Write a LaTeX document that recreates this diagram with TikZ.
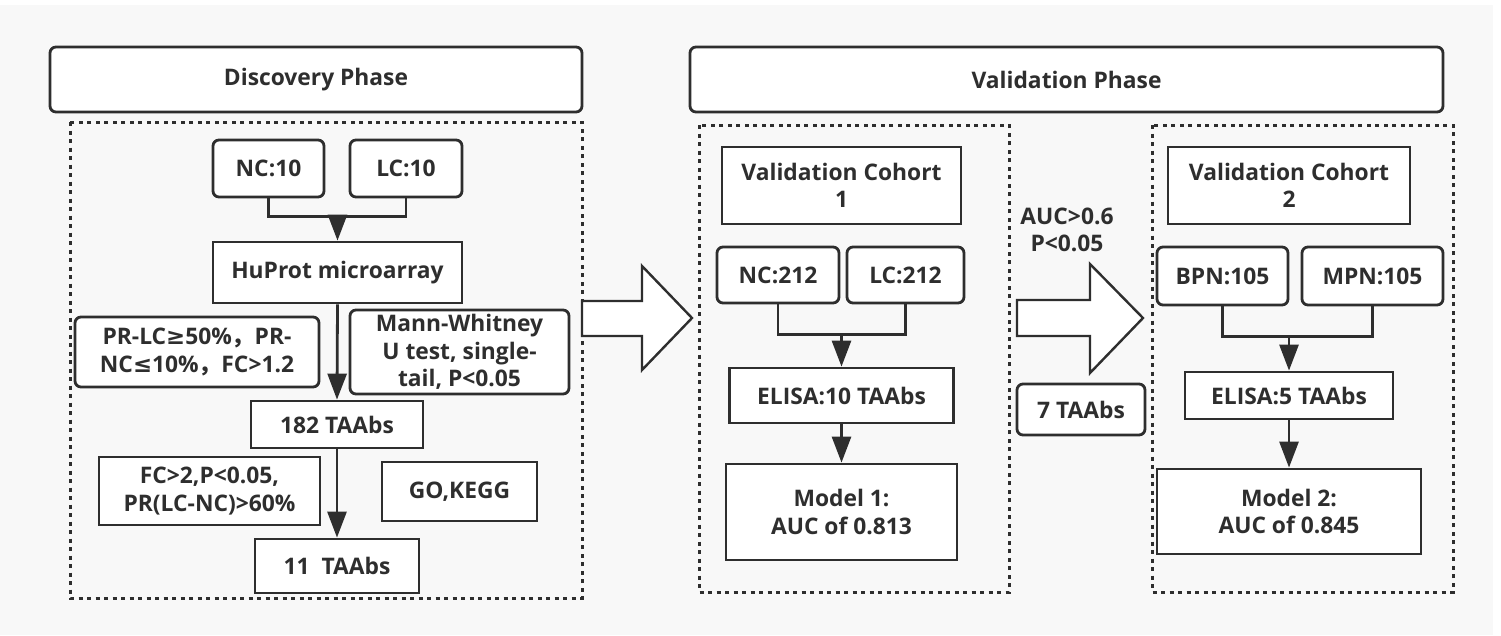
\documentclass[tikz,border=0pt]{standalone}
\usepackage{fontspec}
\setmainfont{Open Sans}
\newfontfamily\cjk{Noto Sans CJK SC}
\newfontfamily\sym{DejaVu Sans}
\usetikzlibrary{arrows.meta,calc}
\definecolor{ink}{HTML}{2E2E2E}
\definecolor{paper}{HTML}{F8F8F8}

\begin{document}
\begin{tikzpicture}[x=1pt,y=-1pt,
  every node/.style={font=\fontsize{22.8}{27.5}\selectfont\bfseries, text=ink},
  sbox/.style={draw=ink, line width=2.8pt, fill=white, inner sep=0pt, align=center, rectangle},
  rbox/.style={sbox, rounded corners=6pt},
  frame/.style={draw=ink, line width=3pt, dash pattern=on 4pt off 4.5pt},
  link/.style={draw=ink, line width=2.8pt},
  flow/.style={link, -{Triangle[length=26pt,width=19pt]}},
  block/.style={draw=ink, line width=2.4pt, fill=white, line join=miter},
]
% canvas
\fill[white] (0,0) rectangle (1501,635);
\fill[paper] (0,5) rectangle (1493,635);
\useasboundingbox (0,0) rectangle (1501,635);

% phase headers
\node[rbox, minimum width=532pt, minimum height=65pt] (disc) at (316,79.5) {Discovery Phase};
\node[rbox, minimum width=753pt, minimum height=65pt] (vali) at (1066.5,79.5) {Validation Phase};

% dotted panels
\draw[frame] (70,122) rectangle (582,598);
\draw[frame] (699,125) rectangle (1009,592);
\draw[frame] (1152,125) rectangle (1453,592);

% block arrows between panels
\draw[block] (582,301) -- (642,301) -- (642,266) -- (692,318) -- (642,370) -- (642,336) -- (582,336) -- cycle;
\draw[block] (1017,300) -- (1090,300) -- (1090,264) -- (1143,318) -- (1090,373) -- (1090,336) -- (1017,336) -- cycle;
\node[align=center] (crit) at (1067,230) {AUC>0.6\\P<0.05};
\node[rbox, minimum width=128pt, minimum height=51pt] (seven) at (1081,409.5) {7 TAAbs};

% discovery phase
\node[rbox, minimum width=111pt, minimum height=57pt] (nc10) at (268.5,168.5) {NC:10};
\node[rbox, minimum width=112pt, minimum height=57pt] (lc10) at (406,168.5) {LC:10};
\node[sbox, minimum width=249pt, minimum height=61pt] (hu) at (337.5,272.5) {HuProt microarray};
\node[rbox, minimum width=244pt, minimum height=70pt] (prlc) at (197,352)
  {PR-LC{\sym ≥}50\%{\cjk ，}PR-\\NC{\sym ≤}10\%{\cjk ，}FC>1.2};
\node[rbox, minimum width=219pt, minimum height=84pt] (mw) at (459.5,352)
  {Mann-Whitney\\U test, single-\\tail, P<0.05};
\node[sbox, minimum width=172pt, minimum height=47pt] (t182) at (337,424.5) {182 TAAbs};
\node[sbox, minimum width=221pt, minimum height=68pt] (fc) at (209.5,491) {FC>2,P<0.05,\\PR(LC-NC)>60\%};
\node[sbox, minimum width=155pt, minimum height=59pt] (go) at (459.5,491.5) {GO,KEGG};
\node[sbox, minimum width=164pt, minimum height=54pt] (t11) at (337,566) {11~~TAAbs};

\coordinate (j1) at ($(hu.north)+(0,-24)$);
\draw[link] (nc10.south) |- (j1) -| (lc10.south);
\draw[flow] (j1) -- (hu.north);
\draw[flow] (hu.south) -- (t182.north);
\draw[flow] (t182.south) -- (t11.north);

% validation cohort 1
\node[sbox, minimum width=239pt, minimum height=77pt] (vc1) at (841.5,185.5) {Validation Cohort\\1};
\node[rbox, minimum width=122pt, minimum height=56pt] (nc212) at (778,275) {NC:212};
\node[rbox, minimum width=117pt, minimum height=56pt] (lc212) at (905.5,275) {LC:212};
\node[sbox, minimum width=224pt, minimum height=55pt] (el10) at (841.5,395.5) {ELISA:10 TAAbs};
\node[sbox, minimum width=231pt, minimum height=96pt] (m1) at (841.5,512) {Model 1:\\AUC of 0.813};

\coordinate (j2) at ($(el10.north)+(0,-32)$);
\draw[link] (nc212.south) |- (j2) -| (lc212.south);
\draw[flow] (j2) -- (el10.north);
\draw[flow] (el10.south) -- (m1.north);

% validation cohort 2
\node[sbox, minimum width=242pt, minimum height=77pt] (vc2) at (1289,185.5) {Validation Cohort\\2};
\node[rbox, minimum width=131pt, minimum height=58pt] (bpn) at (1222.5,276) {BPN:105};
\node[rbox, minimum width=141pt, minimum height=58pt] (mpn) at (1372.5,276) {MPN:105};
\node[sbox, minimum width=208pt, minimum height=47pt] (el5) at (1289,395.5) {ELISA:5 TAAbs};
\node[sbox, minimum width=264pt, minimum height=85pt] (m2) at (1289,511.5) {Model 2:\\AUC of 0.845};

\coordinate (j3) at ($(el5.north)+(0,-34)$);
\draw[link] (bpn.south) |- (j3) -| (mpn.south);
\draw[flow] (j3) -- (el5.north);
\draw[flow] (el5.south) -- (m2.north);
\end{tikzpicture}
\end{document}
